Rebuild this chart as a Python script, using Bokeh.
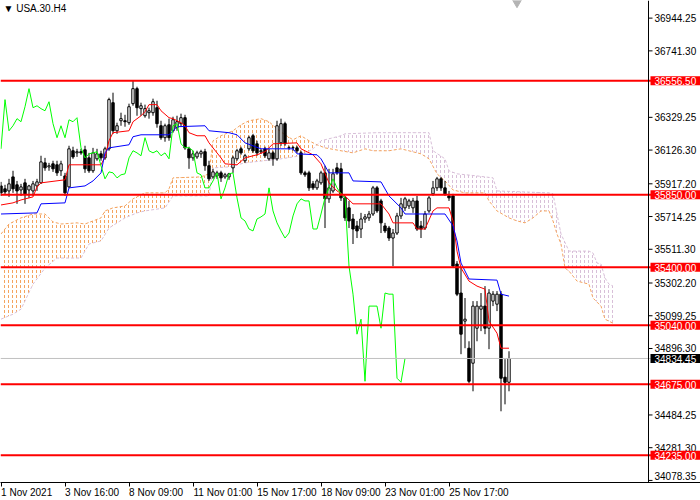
from bokeh.core.properties import value
from bokeh.embed import file_html
from bokeh.models import (CanvasTexture, FixedTicker, Label, LinearAxis,
                          Range1d, Span)
from bokeh.plotting import figure
from bokeh.resources import INLINE


SYMBOL = "USA.30.H4"

# H4 bars, index 0 = 1 Nov 2021 00:00
TIME_TICKS = [0, 16, 32, 48, 64, 80, 96, 112]
TIME_LABELS = ["1 Nov 2021", "3 Nov 16:00", "8 Nov 09:00", "11 Nov 01:00",
               "15 Nov 17:00", "18 Nov 09:00", "23 Nov 01:00", "25 Nov 17:00"]

PRICE_TICKS = [34078.35, 34281.30, 34484.25, 34693.35, 34896.30, 35099.25,
               35302.20, 35511.30, 35714.25, 35917.20, 36126.30, 36329.25,
               36538.35, 36741.30, 36944.25]

OPEN = [35904, 35886, 35873, 35960, 35911, 35879, 35923, 35879, 35873, 35904,
        35923, 36047, 36022, 36041, 36035, 35998, 35966, 35898, 36122, 36109,
        36116, 36128, 36078, 35998, 36072, 36103, 36078, 36134, 36420, 36246,
        36308, 36308, 36296, 36414, 36507, 36383, 36339, 36358, 36358, 36389,
        36277, 36203, 36283, 36246, 36265, 36290, 36327, 36134, 36078, 36084,
        36103, 36116, 36029, 35960, 35966, 35985, 35960, 35960, 36016, 36072,
        36134, 36060, 36134, 36215, 36165, 36116, 36134, 36072, 36109, 36072,
        36171, 36290, 36140, 36140, 36140, 36109, 35985, 35985, 35917, 35892,
        35923, 35985, 35824, 35873, 36016, 36010, 35830, 35768, 35699, 35656,
        35637, 35699, 35706, 35730, 35892, 35811, 35656, 35643, 35581, 35612,
        35718, 35768, 35780, 35768, 35811, 35656, 35643, 35749, 35855, 35892,
        35948, 35892, 35842, 35842, 35420, 35240, 35066, 34898, 34805, 35022,
        35140, 35159, 35022, 35190, 35171, 35233, 34718, 34687]
HIGH = [35929, 35911, 35948, 35998, 35935, 35917, 35948, 35911, 35935, 35948,
        36091, 36078, 36047, 36060, 36060, 36060, 35985, 36153, 36147, 36134,
        36134, 36153, 36109, 36140, 36134, 36122, 36147, 36451, 36482, 36296,
        36358, 36345, 36414, 36556, 36519, 36420, 36408, 36389, 36445, 36432,
        36308, 36290, 36321, 36333, 36339, 36352, 36345, 36147, 36122, 36122,
        36128, 36134, 36060, 36010, 35998, 35998, 35985, 35985, 36091, 36134,
        36147, 36103, 36215, 36227, 36184, 36134, 36147, 36134, 36122, 36308,
        36321, 36302, 36153, 36153, 36153, 36122, 35998, 35998, 35935, 35948,
        35998, 36029, 36010, 36010, 36047, 36047, 35842, 35811, 35730, 35687,
        35737, 35730, 35749, 35904, 35904, 35824, 35675, 35656, 35637, 35737,
        35830, 35836, 35824, 35830, 35842, 35687, 35749, 35842, 35935, 35960,
        35960, 35935, 35873, 35855, 35438, 35395, 35209, 34941, 35190, 35190,
        35240, 35283, 35264, 35252, 35252, 35252, 34830, 34879]
LOW = [35842, 35848, 35836, 35861, 35793, 35842, 35793, 35830, 35842, 35873,
       35917, 35998, 35998, 35991, 35966, 35966, 35842, 35892, 36072, 36084,
       36097, 35985, 35985, 35985, 36060, 36060, 36066, 36122, 36227, 36227,
       36277, 36271, 36283, 36401, 36339, 36339, 36327, 36321, 36339, 36265,
       36190, 36178, 36184, 36234, 36246, 36271, 36128, 36010, 36060, 36072,
       36078, 35998, 35935, 35948, 35948, 35929, 35948, 35942, 35985, 36060,
       36097, 36047, 36122, 36109, 36091, 36103, 36078, 36060, 36029, 36060,
       36153, 36153, 36128, 36122, 36109, 35973, 35960, 35873, 35879, 35879,
       35911, 35643, 35799, 35861, 35973, 35811, 35687, 35643, 35544, 35581,
       35581, 35675, 35687, 35718, 35737, 35612, 35612, 35563, 35407, 35600,
       35699, 35749, 35761, 35737, 35625, 35581, 35631, 35737, 35842, 35873,
       35873, 35842, 35811, 35395, 35221, 34861, 34898, 34681, 34631, 34941,
       35004, 34985, 34892, 35159, 35128, 34507, 34550, 34631]
CLOSE = [35861, 35867, 35917, 35886, 35873, 35898, 35855, 35904, 35917, 35929,
         36053, 36016, 36029, 36010, 35985, 36041, 35861, 36134, 36084, 36116,
         36109, 36010, 35998, 36109, 36103, 36078, 36134, 36439, 36246, 36277,
         36321, 36302, 36395, 36507, 36389, 36401, 36383, 36370, 36426, 36290,
         36203, 36277, 36203, 36314, 36302, 36327, 36140, 36078, 36103, 36109,
         36116, 36029, 35948, 35991, 35985, 35954, 35973, 35979, 36078, 36122,
         36109, 36091, 36203, 36122, 36109, 36122, 36091, 36109, 36072, 36277,
         36290, 36165, 36141, 36141, 36122, 35985, 35973, 35892, 35892, 35935,
         35985, 35824, 35892, 35979, 35985, 35830, 35706, 35687, 35637, 35625,
         35699, 35712, 35730, 35892, 35749, 35675, 35625, 35581, 35612, 35718,
         35793, 35824, 35811, 35811, 35637, 35637, 35730, 35830, 35892, 35948,
         35892, 35855, 35830, 35407, 35233, 34985, 35078, 34693, 35159, 35159,
         35159, 35022, 35240, 35233, 35233, 34712, 34687, 34834.45]

# Ichimoku (9, 26, 52)
TENKAN_BARS = [0, 3, 5, 8, 9, 10, 16, 17, 25, 26, 27, 28, 32, 33, 35, 36, 37, 39,
               40, 42, 43, 45, 46, 47, 49, 51, 52, 54, 55, 56, 59, 61, 64, 66, 68,
               74, 75, 78, 80, 82, 84, 86, 88, 95, 97, 98, 103, 104, 106, 108,
               109, 112, 113, 114, 115, 117, 119, 121, 122, 124, 125, 127]
TENKAN = [35786, 35799, 35817, 35836, 35898, 35923, 35942, 36035, 36035, 36084,
          36184, 36234, 36246, 36302, 36339, 36364, 36408, 36408, 36370, 36327,
          36321, 36296, 36277, 36234, 36215, 36215, 36171, 36109, 36078, 36041,
          36035, 36078, 36097, 36116, 36165, 36171, 36134, 36097, 36041, 35923,
          35873, 35842, 35793, 35793, 35730, 35675, 35675, 35637, 35637, 35749,
          35768, 35768, 35687, 35500, 35395, 35314, 35283, 35264, 35066, 34991,
          34898, 34898]

KIJUN_BARS = [0, 9, 10, 16, 17, 21, 23, 25, 26, 27, 32, 33, 35, 42, 44, 51, 52,
              57, 59, 61, 65, 73, 74, 79, 80, 82, 87, 88, 95, 97, 100, 101, 111,
              113, 114, 115, 117, 124, 125, 127]
KIJUN = [35730, 35737, 35793, 35799, 35892, 35904, 35935, 35985, 36109, 36140,
         36159, 36209, 36221, 36221, 36271, 36277, 36246, 36234, 36221, 36171,
         36134, 36134, 36103, 36097, 36072, 35985, 35985, 35935, 35929, 35842,
         35768, 35730, 35730, 35656, 35563, 35426, 35327, 35320, 35233, 35221]

SPAN_A_BARS = [0, 2, 5, 8, 11, 13, 15, 19, 21, 23, 25, 26, 28, 31, 33, 36, 41,
               42, 43, 50, 52, 53, 55, 58, 60, 62, 65, 67, 69, 71, 73, 74, 75,
               77, 79, 81, 85, 88, 91, 93, 97, 100, 105, 107, 109, 111, 113,
               116, 121, 122, 124, 127, 129, 131, 133, 135, 137, 138, 139, 140,
               141, 142, 144, 147, 148, 150, 151, 153]
SPAN_A = [35606, 35668, 35706, 35730, 35730, 35681, 35668, 35675, 35668, 35687,
          35706, 35749, 35768, 35780, 35824, 35861, 35861, 35886, 35954, 35960,
          35979, 36184, 36215, 36246, 36283, 36308, 36321, 36302, 36258, 36221,
          36190, 36203, 36215, 36184, 36159, 36140, 36122, 36109, 36134, 36122,
          36122, 36134, 36103, 36072, 35979, 35935, 35879, 35861, 35861, 35811,
          35749, 35706, 35687, 35675, 35706, 35749, 35749, 35687, 35606, 35544,
          35395, 35376, 35314, 35295, 35209, 35159, 35078, 35053]

SPAN_B_BARS = [0, 3, 5, 8, 11, 14, 20, 22, 25, 27, 31, 34, 36, 41, 43, 52, 53,
               57, 61, 70, 75, 78, 79, 80, 85, 86, 94, 107, 108, 111, 112, 114,
               119, 123, 124, 137, 138, 139, 140, 142, 147, 148, 149, 150, 151,
               152, 153]
SPAN_B = [35078, 35109, 35140, 35295, 35395, 35457, 35457, 35544, 35563, 35643,
          35706, 35737, 35749, 35768, 35842, 35842, 36016, 36022, 36047, 36072,
          36091, 36134, 36159, 36184, 36215, 36227, 36234, 36234, 36122, 36072,
          35998, 35979, 35966, 35954, 35873, 35861, 35855, 35730, 35606, 35500,
          35500, 35488, 35426, 35420, 35333, 35295, 35283]

KUMO_TWIST = 79
CHIKOU_SHIFT = 26

LEVELS = [36556.50, 35850.00, 35400.00, 35040.00, 34675.00, 34235.00]
BID = 34834.45

FONT = "Liberation Sans"
BAR_PX = 4.0           # pixels per bar
SCALE_X = 161.875      # bar position of the price scale line
FRAME_H = 481          # expected frame height, used for points per pixel
PT_PER_PX = 6.212

bars = list(range(len(CLOSE)))

y_top = 37053.5
y_bottom = y_top - FRAME_H * PT_PER_PX
p = figure(
    width=700, height=500,
    x_range=Range1d(-0.125, -0.125 + 700 / BAR_PX),
    y_range=Range1d(y_bottom, y_top),
    y_axis_location=None,
    toolbar_location=None, output_backend="svg",
    background_fill_color="white", border_fill_color="white",
    min_border_left=0, min_border_top=0, min_border_right=0, min_border_bottom=0,
)
p.grid.visible = False
p.outline_line_color = None


# kumo: dashed vertical columns like the terminal draws them
def cloud_texture():
    return CanvasTexture(code="""
        ctx.canvas.width = 4;
        ctx.canvas.height = 5;
        ctx.fillStyle = color;
        ctx.fillRect(0, 0, 1, 3);
    """)


bull_x = [b for b in SPAN_A_BARS if b <= KUMO_TWIST] + \
         [b for b in SPAN_B_BARS if b <= KUMO_TWIST][::-1]
bull_y = [v for b, v in zip(SPAN_A_BARS, SPAN_A) if b <= KUMO_TWIST] + \
         [v for b, v in zip(SPAN_B_BARS, SPAN_B) if b <= KUMO_TWIST][::-1]
bear_x = [b for b in SPAN_B_BARS if b >= KUMO_TWIST] + \
         [b for b in SPAN_A_BARS if b >= KUMO_TWIST][::-1]
bear_y = [v for b, v in zip(SPAN_B_BARS, SPAN_B) if b >= KUMO_TWIST] + \
         [v for b, v in zip(SPAN_A_BARS, SPAN_A) if b >= KUMO_TWIST][::-1]

p.patch(bull_x, bull_y, fill_color=None, line_color=None,
        hatch_pattern="kumo", hatch_extra={"kumo": cloud_texture()},
        hatch_color="#F4A460", hatch_scale=4, hatch_weight=1)
p.patch(bear_x, bear_y, fill_color=None, line_color=None,
        hatch_pattern="kumo", hatch_extra={"kumo": cloud_texture()},
        hatch_color="#D8BFD8", hatch_scale=4, hatch_weight=1)
p.line(SPAN_A_BARS, SPAN_A, line_color="#F4A460", line_width=1, line_dash="3 2")
p.line(SPAN_B_BARS, SPAN_B, line_color="#D8BFD8", line_width=1, line_dash="3 2")

# current bid
p.add_layout(Span(location=BID, dimension="width", line_color="#C0C0C0", line_width=1))

# candles
p.segment(bars, LOW, bars, HIGH, line_color="black", line_width=1)
tops = [max(o, c) for o, c in zip(OPEN, CLOSE)]
bottoms = [min(o, c) for o, c in zip(OPEN, CLOSE)]
fills = ["white" if c >= o else "black" for o, c in zip(OPEN, CLOSE)]
p.vbar(x=bars, width=0.6, top=tops, bottom=bottoms,
       fill_color=fills, line_color="black", line_width=1)

# ichimoku lines
p.line(TENKAN_BARS, TENKAN, line_color="red", line_width=1)
p.line(KIJUN_BARS, KIJUN, line_color="blue", line_width=1)
p.line([b - CHIKOU_SHIFT for b in bars[CHIKOU_SHIFT:]], CLOSE[CHIKOU_SHIFT:],
       line_color="#00FF00", line_width=1)

# chart-shift marker at the top edge, two bars after the last candle
p.scatter([len(CLOSE) + 1], [y_top - 2 * PT_PER_PX], marker="inverted_triangle",
          size=9, fill_color="#B4B4B4", line_color="#B4B4B4")

# horizontal levels
for level in LEVELS:
    p.add_layout(Span(location=level, dimension="width", line_color="red", line_width=2))

# price scale, drawn inside the frame like the terminal does
p.add_layout(Span(location=SCALE_X, dimension="height", line_color="black", line_width=1))
shown_ticks = [t for t in PRICE_TICKS
               if all(abs(t - lv) > 30 for lv in LEVELS + [BID])]
# keep the lowest label clear of the time axis
lift = [-4 if (t - y_bottom) / PT_PER_PX < 7 else 0 for t in shown_ticks]
p.ray(x=[SCALE_X] * len(shown_ticks), y=shown_ticks, length=4,
      length_units="screen", angle=0, line_color="black", line_width=1)
p.text(x=[SCALE_X] * len(shown_ticks), y=shown_ticks,
       text=[f"{t:.2f}" for t in shown_ticks], x_offset=6, y_offset=lift,
       text_baseline="middle", text_align="left", text_color="black",
       text_font=value(FONT), text_font_size="10px")

tag_pad = dict(left=4, right=5, top=1, bottom=0)
for level in LEVELS:
    p.add_layout(Label(x=SCALE_X, y=level, x_offset=2, text=f"{level:.2f}",
                       text_font=FONT, text_font_size="10px", text_color="white",
                       text_baseline="middle", background_fill_color="red",
                       padding=tag_pad))
p.add_layout(Label(x=SCALE_X, y=BID, x_offset=2, text=f"{BID:.2f}",
                   text_font=FONT, text_font_size="10px", text_color="white",
                   text_baseline="middle", background_fill_color="black",
                   padding=tag_pad))

p.add_layout(Label(x=-0.125, y=y_top, x_offset=3, y_offset=-2, text="\u25bc " + SYMBOL,
                   text_font=FONT, text_font_size="10px", text_color="black",
                   text_baseline="top"))

# time axis: tick marks at the bars, labels starting at the tick (left aligned)
CHAR_W = {" ": 2.8, ":": 2.8, "N": 7.2, "o": 5.6, "v": 5.0}


def text_width(s):
    return sum(CHAR_W.get(ch, 5.6) for ch in s)


label_pos = [round(t + text_width(s) / 2 / BAR_PX, 2) for t, s in zip(TIME_TICKS, TIME_LABELS)]

xa = p.xaxis[0]
xa.ticker = FixedTicker(ticks=TIME_TICKS)
xa.major_label_overrides = {t: "" for t in TIME_TICKS}
xa.axis_line_color = "black"
xa.major_tick_line_color = "black"
xa.minor_tick_line_color = None
xa.major_tick_in = 0
xa.major_tick_out = 4
xa.major_label_standoff = 0

xl = LinearAxis(ticker=FixedTicker(ticks=label_pos),
                major_label_overrides={pos: s for pos, s in zip(label_pos, TIME_LABELS)},
                axis_line_color=None, major_tick_line_color=None,
                minor_tick_line_color=None, major_tick_in=0, major_tick_out=0,
                major_label_standoff=0, major_label_text_font=FONT,
                major_label_text_font_size="10px", major_label_text_color="black")
p.add_layout(xl, "below")

open("out.html", "w").write(file_html(p, INLINE))
